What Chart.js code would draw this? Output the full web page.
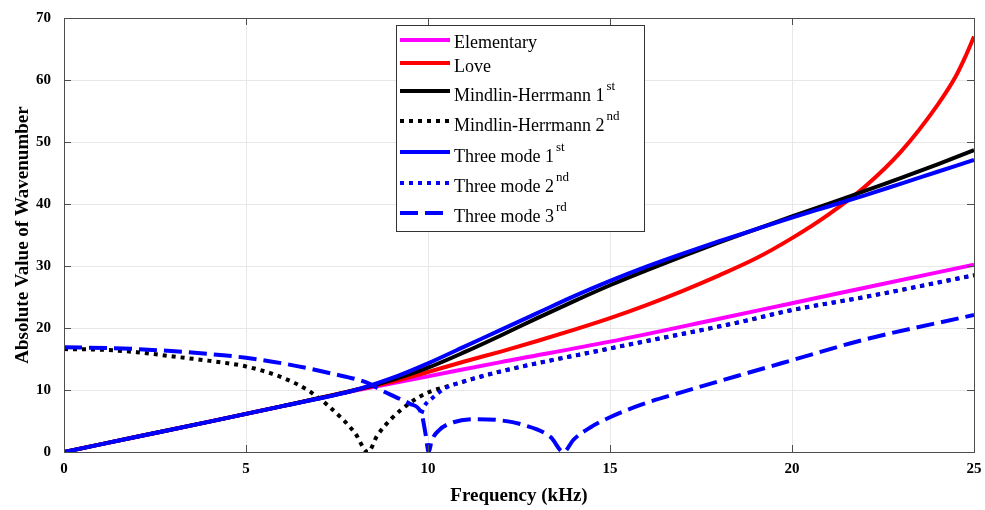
<!DOCTYPE html>
<html>
<head>
<meta charset="utf-8">
<script src="https://cdn.jsdelivr.net/npm/chart.js@4.4.0/dist/chart.umd.min.js"></script>
<style>
html, body { margin: 0; padding: 0; background: #fff; }
</style>
</head>
<body>
<canvas id="chart" width="985" height="510"></canvas>
<script>
// legend text, split in base + superscript
const seriesNames = ["Elementary", "Love", "Mindlin-Herrmann 1", "Mindlin-Herrmann 2", "Three mode 1", "Three mode 2", "Three mode 3"];
const seriesSup = ["", "", "st", "nd", "st", "nd", "rd"];

const xTicks = [0, 5, 10, 15, 20, 25];
const yTicks = [0, 10, 20, 30, 40, 50, 60, 70];

// Elementary
const freqElem = [0, 2, 4, 6, 8, 10, 12, 15, 18, 20, 22, 25];
const elementary = [0, 2.45, 4.9, 7.4, 9.9, 12.2, 14.5, 17.8, 21.5, 24.0, 26.5, 30.2];

// Love
const freqLove = [0, 2, 4, 6, 8, 9, 10, 11, 12, 13, 14, 15, 16, 17, 18, 19, 20, 21, 22, 23, 24, 24.5, 24.75, 25];
const love = [0, 2.45, 4.9, 7.4, 10.0, 11.3, 12.9, 14.6, 16.2, 17.9, 19.7, 21.6, 23.7, 26.0, 28.5, 31.2, 34.5, 38.3, 42.8, 48.5, 56.0, 60.6, 63.6, 67.0];

// Mindlin-Herrmann 1st
const freqMH1 = [0, 2, 4, 6, 8, 9, 10, 11, 12, 13, 14, 15, 16, 17, 18, 19, 20, 21, 22, 23, 24, 25];
const mh1 = [0, 2.45, 4.9, 7.4, 10.0, 11.6, 13.6, 16.1, 18.8, 21.6, 24.3, 26.9, 29.3, 31.6, 33.8, 35.9, 38.0, 40.0, 42.1, 44.2, 46.4, 48.7];

// Mindlin-Herrmann 2nd
const freqMH2 = [0, 1, 2, 3, 4, 5, 6, 6.77, 7.67, 8.0, 8.35, 8.6, 9.0, 9.5, 10, 10.66, 11, 12, 15, 18.6, 20, 22, 25];
const mh2 = [16.6, 16.5, 16.1, 15.4, 14.7, 13.8, 12.0, 9.7, 5.2, 3.0, 0, 2.6, 5.4, 7.9, 9.6, 10.8, 11.4, 13.0, 16.7, 21.0, 22.9, 25.0, 28.5];

// Three mode 1st
const freqTM1 = [0, 2, 4, 6, 8, 9, 10, 11, 12, 13, 14, 15, 16, 17, 18, 19, 20, 21, 22, 23, 24, 25];
const tm1 = [0, 2.45, 4.9, 7.4, 10.0, 11.9, 14.3, 17.0, 19.7, 22.4, 25.1, 27.6, 29.9, 32.0, 34.0, 35.9, 37.8, 39.6, 41.4, 43.3, 45.2, 47.1];

// Three mode 2nd
const freqTM2 = [9.82, 9.9, 10.12, 10.48, 11, 12, 15, 18.6, 20, 22, 25];
const tm2 = [6.2, 7.4, 8.7, 10.3, 11.4, 13.0, 16.7, 21.0, 22.9, 25.0, 28.5];

// Three mode 3rd
const freqTM3 = [0, 2, 4, 5, 6, 7.32, 8.4, 8.7, 9.1, 9.5, 9.82, 9.93, 10.02, 10.1, 10.3, 10.7, 11.35, 12, 12.6, 13.37, 13.72, 14.0, 14.47, 15, 15.84, 17, 18.87, 20, 21.97, 25];
const tm3 = [16.9, 16.6, 15.8, 15.2, 14.3, 12.7, 11.0, 10.0, 8.9, 7.8, 6.2, 3.0, 0, 1.8, 3.5, 4.8, 5.3, 5.1, 4.4, 2.4, 0, 2.0, 4.0, 5.6, 7.6, 9.7, 12.9, 14.8, 18.1, 22.1];

function pts(xs, ys) {
    return xs.map((x, i) => ({ x: x, y: ys[i] }));
}

const serif = "'Liberation Serif', 'Times New Roman', serif";

function makeSet(i, xs, ys, color, dash) {
    return {
        label: seriesNames[i] + seriesSup[i],
        data: pts(xs, ys),
        borderColor: color,
        backgroundColor: color,
        borderWidth: 4,
        borderDash: dash,
        borderCapStyle: 'butt',
        pointRadius: 0,
        fill: false,
        cubicInterpolationMode: 'monotone',
        order: 6 - i
    };
}

const frame = {
    id: 'frame',
    afterDraw(chart) {
        const ctx = chart.ctx;
        const a = chart.chartArea;
        const sx = chart.scales.x, sy = chart.scales.y;
        ctx.save();
        ctx.strokeStyle = '#4d4d4d';
        ctx.lineWidth = 1;
        ctx.setLineDash([]);
        ctx.strokeRect(a.left + 0.5, a.top + 0.5, a.right - a.left, a.bottom - a.top);
        ctx.beginPath();
        xTicks.forEach(v => {
            const px = Math.round(sx.getPixelForValue(v)) + 0.5;
            ctx.moveTo(px, a.bottom); ctx.lineTo(px, a.bottom - 7);
            ctx.moveTo(px, a.top); ctx.lineTo(px, a.top + 7);
        });
        yTicks.forEach(v => {
            const py = Math.round(sy.getPixelForValue(v)) + 0.5;
            ctx.moveTo(a.left, py); ctx.lineTo(a.left + 7, py);
            ctx.moveTo(a.right, py); ctx.lineTo(a.right - 7, py);
        });
        ctx.stroke();

        // legend box
        const x0 = 396, y0 = 25, w = 248, h = 206;
        const lineY = [40, 63, 91, 121, 152, 183, 213];
        const baseY = [48, 72, 101, 131, 162, 192, 222];
        ctx.fillStyle = '#fff';
        ctx.fillRect(x0, y0, w, h);
        ctx.strokeStyle = '#333';
        ctx.strokeRect(x0 + 0.5, y0 + 0.5, w, h);
        chart.data.datasets.forEach((ds, i) => {
            ctx.beginPath();
            ctx.setLineDash(ds.borderDash || []);
            ctx.lineCap = 'butt';
            ctx.strokeStyle = ds.borderColor;
            ctx.lineWidth = ds.borderWidth;
            ctx.moveTo(400, lineY[i]);
            ctx.lineTo(450, lineY[i]);
            ctx.stroke();
            ctx.setLineDash([]);
            ctx.fillStyle = '#000';
            ctx.textBaseline = 'alphabetic';
            ctx.textAlign = 'left';
            ctx.font = "18px " + serif;
            ctx.fillText(seriesNames[i], 454, baseY[i]);
            if (seriesSup[i]) {
                const tw = ctx.measureText(seriesNames[i]).width;
                ctx.font = "13px " + serif;
                ctx.fillText(seriesSup[i], 454 + tw + 2, baseY[i] - 11);
            }
        });
        ctx.restore();
    }
};

new Chart(document.getElementById('chart').getContext('2d'), {
    type: 'line',
    data: {
        datasets: [
            makeSet(0, freqElem, elementary, '#ff00ff', []),
            makeSet(1, freqLove, love, '#ff0000', []),
            makeSet(2, freqMH1, mh1, '#000000', []),
            makeSet(3, freqMH2, mh2, '#000000', [4, 5]),
            makeSet(4, freqTM1, tm1, '#0000ff', []),
            makeSet(5, freqTM2, tm2, '#0000ff', [4, 5]),
            makeSet(6, freqTM3, tm3, '#0000ff', [18, 7])
        ]
    },
    options: {
        responsive: false,
        animation: false,
        layout: { padding: { left: 0, right: 11, top: 18, bottom: 0 } },
        plugins: {
            legend: { display: false },
            tooltip: { enabled: false }
        },
        scales: {
            x: {
                type: 'linear',
                min: 0,
                max: 25,
                afterFit: s => { s.height = 58; s.paddingLeft = 0; s.paddingRight = 0; },
                afterBuildTicks: s => { s.ticks = xTicks.map(v => ({ value: v })); },
                grid: { color: '#e8e8e8', drawTicks: false },
                border: { display: false },
                ticks: { color: '#000', padding: 8, font: { family: serif, size: 15, weight: 'bold' } },
                title: {
                    display: true,
                    text: 'Frequency (kHz)',
                    color: '#000',
                    font: { family: serif, size: 19, weight: 'bold' },
                    padding: { top: 0, bottom: 3 }
                }
            },
            y: {
                min: 0,
                max: 70,
                afterFit: s => { s.width = 64; s.paddingTop = 0; s.paddingBottom = 0; },
                afterBuildTicks: s => { s.ticks = yTicks.map(v => ({ value: v })); },
                grid: { color: '#e8e8e8', drawTicks: false },
                border: { display: false },
                ticks: { color: '#000', padding: 13, font: { family: serif, size: 15, weight: 'bold' } },
                title: {
                    display: true,
                    text: 'Absolute Value of Wavenumber',
                    color: '#000',
                    font: { family: serif, size: 19, weight: 'bold' },
                    padding: { top: 12, bottom: 0 }
                }
            }
        }
    },
    plugins: [frame]
});
</script>
</body>
</html>
